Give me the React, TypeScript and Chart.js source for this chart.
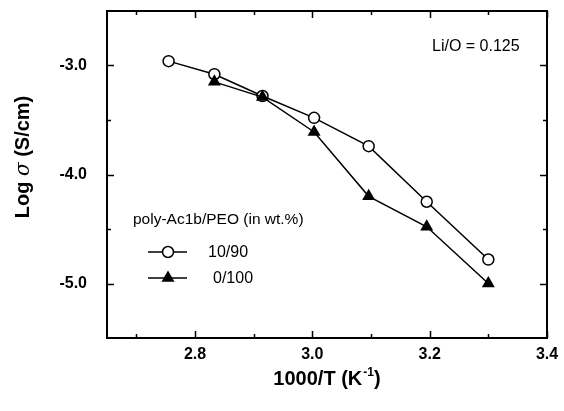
import React, { useEffect, useRef } from "react";
import { Chart, registerables } from "chart.js";

Chart.register(...registerables);

// Data
const xPeo10 = [2.755, 2.833, 2.915, 3.003, 3.096, 3.195, 3.3];
const yPeo10 = [-2.96, -3.08, -3.28, -3.48, -3.74, -4.25, -4.78];
const xPeo100 = [2.833, 2.915, 3.003, 3.096, 3.195, 3.3];
const yPeo100 = [-3.15, -3.29, -3.61, -4.2, -4.48, -5.0];

const xMajorTicks = [2.8, 3.0, 3.2, 3.4];
const xMinorTicks = [2.7, 2.9, 3.1, 3.3];
const yMajorTicks = [-5.0, -4.0, -3.0];
const yMinorTicks = [-4.5, -3.5];

const legendTitle = "poly-Ac1b/PEO (in wt.%)";
const seriesLabels = ["10/90", "0/100"];
const annotation = "Li/O = 0.125";

const FONT = "'Liberation Sans', Arial, Helvetica, sans-serif";

const decorPlugin = {
  id: "decor",
  afterDraw(chart: any) {
    const ctx = chart.ctx as CanvasRenderingContext2D;
    const { left, right, top, bottom } = chart.chartArea;
    const xs = chart.scales.x;
    const ys = chart.scales.y;
    ctx.save();
    ctx.strokeStyle = "#000";
    ctx.fillStyle = "#000";
    // frame
    ctx.lineWidth = 2;
    ctx.strokeRect(left, top, right - left, bottom - top);
    // ticks
    ctx.lineWidth = 1.5;
    const major = 7, minor = 4;
    const vt = (v: number, len: number) => {
      const p = Math.round(xs.getPixelForValue(v)) + 0.5;
      ctx.beginPath();
      ctx.moveTo(p, bottom); ctx.lineTo(p, bottom - len);
      ctx.moveTo(p, top); ctx.lineTo(p, top + len);
      ctx.stroke();
    };
    const ht = (v: number, len: number) => {
      const p = Math.round(ys.getPixelForValue(v)) + 0.5;
      ctx.beginPath();
      ctx.moveTo(left, p); ctx.lineTo(left + len, p);
      ctx.moveTo(right, p); ctx.lineTo(right - len, p);
      ctx.stroke();
    };
    xMajorTicks.forEach((v) => vt(v, major));
    xMinorTicks.forEach((v) => vt(v, minor));
    yMajorTicks.forEach((v) => ht(v, major));
    yMinorTicks.forEach((v) => ht(v, minor));

    // x title with superscript
    ctx.textBaseline = "alphabetic";
    ctx.textAlign = "left";
    const xMain = "1000/T (K";
    const xSup = "-1";
    const xEnd = ")";
    ctx.font = `bold 20px ${FONT}`;
    const w1 = ctx.measureText(xMain).width;
    const w3 = ctx.measureText(xEnd).width;
    ctx.font = `bold 12px ${FONT}`;
    const w2 = ctx.measureText(xSup).width;
    const total = w1 + w2 + w3 + 1;
    let tx = (left + right) / 2 - total / 2;
    const ty = 385;
    ctx.font = `bold 20px ${FONT}`;
    ctx.fillText(xMain, tx, ty);
    tx += w1 + 1;
    ctx.font = `bold 12px ${FONT}`;
    ctx.fillText(xSup, tx, ty - 9);
    tx += w2;
    ctx.font = `bold 20px ${FONT}`;
    ctx.fillText(xEnd, tx, ty);

    // y title rotated
    ctx.save();
    ctx.translate(29, 157);
    ctx.rotate(-Math.PI / 2);
    const parts: [string, string][] = [
      ["Log ", `bold 20px ${FONT}`],
      ["\u03c3", `italic 20px 'DejaVu Serif', 'Liberation Serif', serif`],
      [" (S/cm)", `bold 20px ${FONT}`],
    ];
    let tw = 0;
    parts.forEach(([t, f]) => { ctx.font = f; tw += ctx.measureText(t).width; });
    let px = -tw / 2;
    parts.forEach(([t, f]) => {
      ctx.font = f;
      ctx.fillText(t, px, 0);
      px += ctx.measureText(t).width;
    });
    ctx.restore();

    // annotation
    ctx.font = `16px ${FONT}`;
    ctx.textBaseline = "middle";
    ctx.fillText(annotation, 432, 47);

    // legend
    ctx.font = `15.5px ${FONT}`;
    ctx.fillText(legendTitle, 133, 220);
    ctx.font = `16px ${FONT}`;
    ctx.fillText(seriesLabels[0], 208, 253);
    ctx.fillText(seriesLabels[1], 213, 279);
    ctx.lineWidth = 1.5;
    ctx.beginPath();
    ctx.moveTo(148, 252); ctx.lineTo(187, 252);
    ctx.moveTo(148, 278); ctx.lineTo(187, 278);
    ctx.stroke();
    ctx.beginPath();
    ctx.arc(168, 252, 5.5, 0, Math.PI * 2);
    ctx.fillStyle = "#fff";
    ctx.fill();
    ctx.stroke();
    ctx.fillStyle = "#000";
    const r = 7.5;
    ctx.beginPath();
    for (let i = 0; i < 3; i++) {
      const a = (i * 2 * Math.PI) / 3;
      const vx = 168 + Math.sin(a) * r;
      const vy = 278 - Math.cos(a) * r;
      if (i === 0) ctx.moveTo(vx, vy); else ctx.lineTo(vx, vy);
    }
    ctx.closePath();
    ctx.fill();
    ctx.restore();
  },
};

export default function App() {
  const ref = useRef<HTMLCanvasElement | null>(null);
  useEffect(() => {
    if (!ref.current) return;
    const chart = new Chart(ref.current, {
      type: "line",
      data: {
        datasets: [
          {
            label: seriesLabels[0],
            data: xPeo10.map((x, i) => ({ x, y: yPeo10[i] })),
            borderColor: "#000",
            borderWidth: 1.5,
            pointStyle: "circle",
            pointRadius: 5.5,
            pointBorderWidth: 1.5,
            pointBackgroundColor: "#fff",
            pointBorderColor: "#000",
            order: 1,
          },
          {
            label: seriesLabels[1],
            data: xPeo100.map((x, i) => ({ x, y: yPeo100[i] })),
            borderColor: "#000",
            borderWidth: 1.5,
            pointStyle: "triangle",
            pointRadius: 7.5,
            pointBorderWidth: 0,
            pointBackgroundColor: "#000",
            pointBorderColor: "#000",
            order: 0,
          },
        ],
      },
      options: {
        responsive: false,
        animation: false,
        events: [],
        layout: { padding: { left: 0, right: 17, top: 11, bottom: 0 } },
        plugins: { legend: { display: false }, tooltip: { enabled: false } },
        scales: {
          x: {
            type: "linear",
            min: 2.65,
            max: 3.4,
            grid: { display: false, drawTicks: false },
            border: { display: false },
            afterBuildTicks: (s: any) => {
              s.ticks = xMajorTicks.map((v) => ({ value: v }));
            },
            afterFit: (s: any) => {
              s.height = 73;
              s.paddingLeft = 0;
              s.paddingRight = 0;
            },
            ticks: {
              color: "#000",
              padding: 7,
              font: { family: FONT, size: 16, weight: "bold" },
              callback: (v: any) => Number(v).toFixed(1),
              maxRotation: 0,
            },
          },
          y: {
            type: "linear",
            min: -5.5,
            max: -2.5,
            grid: { display: false, drawTicks: false },
            border: { display: false },
            afterBuildTicks: (s: any) => {
              s.ticks = yMajorTicks.map((v) => ({ value: v }));
            },
            afterFit: (s: any) => {
              s.width = 107;
              s.paddingTop = 0;
              s.paddingBottom = 0;
            },
            ticks: {
              color: "#000",
              padding: 20,
              font: { family: FONT, size: 16, weight: "bold" },
              callback: (v: any) => Number(v).toFixed(1),
            },
          },
        },
      },
      plugins: [decorPlugin],
    });
    return () => chart.destroy();
  }, []);
  return (
    <div style={{ position: "fixed", left: 0, top: 0, width: 564, height: 411, background: "#fff" }}>
      <canvas ref={ref} width={564} height={411} style={{ display: "block" }} />
    </div>
  );
}
